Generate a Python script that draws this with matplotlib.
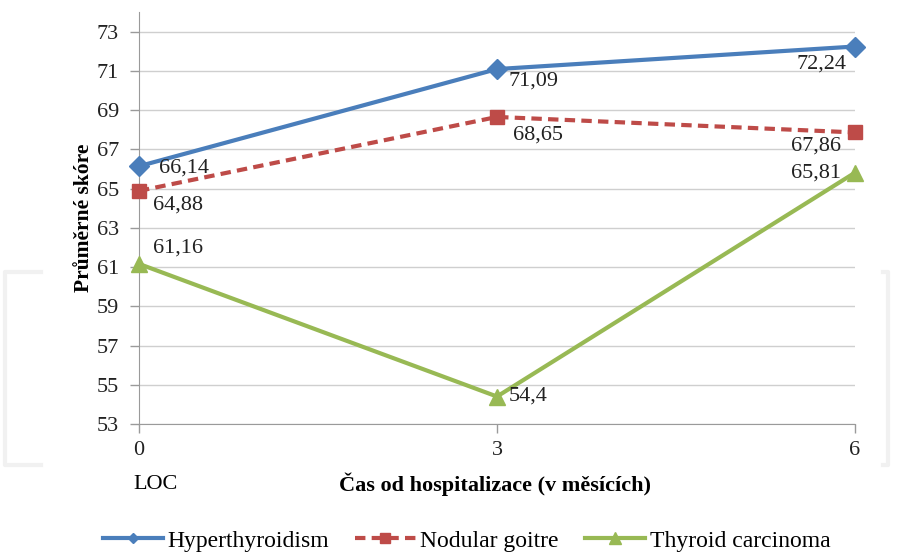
import matplotlib.pyplot as plt
from matplotlib.lines import Line2D

# data
months = [0, 3, 6]
hyper = [66.14, 71.09, 72.24]
nodular = [64.88, 68.65, 67.86]
carcinoma = [61.16, 54.4, 65.81]
hyper_lbl = ["66,14", "71,09", "72,24"]
nodular_lbl = ["64,88", "68,65", "67,86"]
carcinoma_lbl = ["61,16", "54,4", "65,81"]
yticks = list(range(53, 74, 2))

plt.rcParams['font.family'] = ['Liberation Serif', 'DejaVu Serif']

fig = plt.figure(figsize=(9.06, 5.52), dpi=100)
ax = fig.add_axes([0.1534, 0.2319, 0.7903, 0.7464])

# faint watermark box behind the chart
for xs, ys in [([0.045, 0.006, 0.006, 0.045], [0.507, 0.507, 0.158, 0.158]),
               ([0.975, 0.98, 0.98, 0.975], [0.507, 0.507, 0.158, 0.158])]:
    fig.add_artist(Line2D(xs, ys, color='#f1f1f1', lw=3, zorder=0))

blue, red, green = '#4A7EBB', '#BE4B48', '#98B954'
ax.plot(months, hyper, color=blue, lw=3, marker='D', ms=10, clip_on=False, zorder=5)
ax.plot(months, nodular, color=red, lw=3, ls=(0, (2.5, 1.5)), marker='s', ms=10,
        clip_on=False, zorder=5)
ax.plot(months, carcinoma, color=green, lw=3, marker='^', ms=12, clip_on=False, zorder=5)

fs = 16
offs_h = [(20, -2, 'left'), (12, -12, 'left'), (-8, -18, 'right')]
offs_n = [(14, -14, 'left'), (16, -18, 'left'), (-14, -14, 'right')]
offs_c = [(14, 16, 'left'), (12, 0, 'left'), (-14, 0, 'right')]
for vals, lbls, offs in [(hyper, hyper_lbl, offs_h), (nodular, nodular_lbl, offs_n),
                         (carcinoma, carcinoma_lbl, offs_c)]:
    for x, v, t, (dx, dy, ha) in zip(months, vals, lbls, offs):
        ax.annotate(t, (x, v), xytext=(dx, dy), textcoords='offset pixels',
                    ha=ha, va='center', fontsize=fs, color='#222222', zorder=6)

ax.set_xlim(0, 6)
ax.set_ylim(53, 74)
ax.set_xticks(months)
ax.set_yticks(yticks)
ax.tick_params(labelsize=fs, colors='#222222', length=6.5, width=1, color='#9a9a9a')
ax.tick_params(axis='y', pad=8)
ax.tick_params(axis='x', pad=6)
ax.yaxis.grid(True, color='#cfcfcf', lw=1)
ax.set_axisbelow(True)
for s in ['top', 'right']:
    ax.spines[s].set_visible(False)
for s in ['left', 'bottom']:
    ax.spines[s].set_color('#9a9a9a')

ax.set_ylabel('Průměrné skóre', fontsize=15.5, fontweight='bold', labelpad=2)
fig.text(0.5465, 0.123, 'Čas od hospitalizace (v měsících)', ha='center', va='center',
         fontsize=16, fontweight='bold')
fig.text(0.147, 0.123, 'LOC', ha='left', va='center', fontsize=16)

handles = [Line2D([], [], color=blue, lw=3, marker='D', ms=5),
           Line2D([], [], color=red, lw=3, ls=(0, (2.5, 1.5)), marker='s', ms=7),
           Line2D([], [], color=green, lw=3, marker='^', ms=8)]
fig.legend(handles, ['Hyperthyroidism', 'Nodular goitre', 'Thyroid carcinoma'],
           loc='center', bbox_to_anchor=(0.515, 0.02), ncol=3, frameon=False,
           fontsize=17, handlelength=2.55, handletextpad=0.2, columnspacing=1.1)

fig.savefig('out.png', dpi=100)
